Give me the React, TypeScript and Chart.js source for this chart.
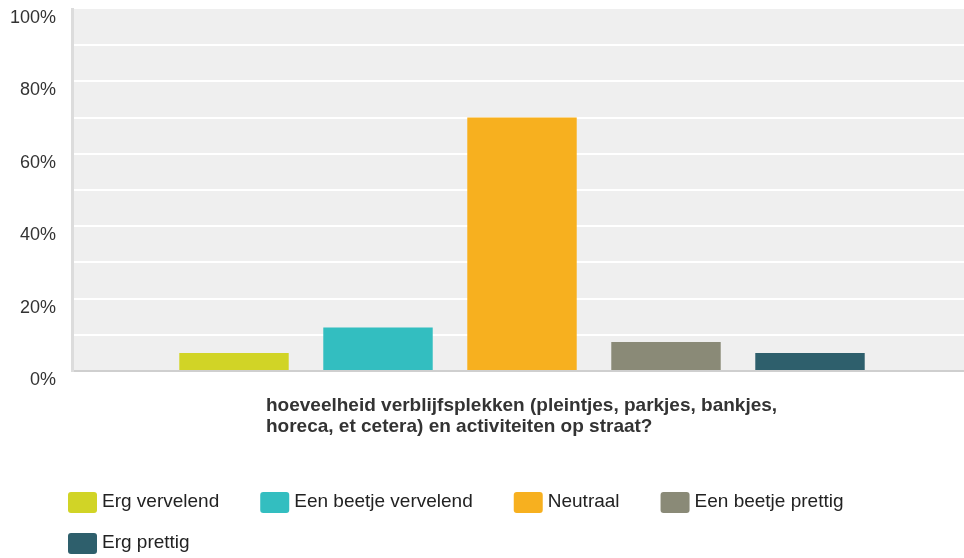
import React, { useEffect, useRef } from "react";
import { Chart, registerables } from "chart.js";

Chart.register(...registerables);

const categories = [
  [
    "hoeveelheid verblijfsplekken (pleintjes, parkjes, bankjes,",
    "horeca, et cetera) en activiteiten op straat?",
  ],
];
const seriesNames = [
  "Erg vervelend",
  "Een beetje vervelend",
  "Neutraal",
  "Een beetje prettig",
  "Erg prettig",
];
const seriesValues = [5, 12, 70, 8, 5];
const seriesColors = ["#D1D426", "#33BEC0", "#F7B01F", "#8A8A77", "#2E5F6C"];
const yTickStep = 10;
const yLabelStep = 20;

const FONT = '"Liberation Sans", Arial, Helvetica, sans-serif';

const bgPlugin = {
  id: "plotBg",
  beforeDraw(chart: any) {
    const { ctx, chartArea: a } = chart;
    ctx.save();
    ctx.fillStyle = "#efefef";
    ctx.fillRect(a.left, a.top, a.right - a.left, a.bottom - a.top);
    ctx.restore();
  },
};

const legendPlugin = {
  id: "customLegend",
  afterDraw(chart: any) {
    const ctx = chart.ctx;
    ctx.save();
    ctx.font = `19px ${FONT}`;
    ctx.textBaseline = "middle";
    ctx.textAlign = "left";
    const startX = 68;
    let x = startX;
    let y = 492;
    const boxW = 29,
      boxH = 21,
      gap = 5,
      itemGap = 41,
      rowH = 41,
      maxX = 964;
    chart.data.datasets.forEach((ds: any) => {
      const tw = ctx.measureText(ds.label).width;
      const w = boxW + gap + tw;
      if (x > startX && x + w > maxX) {
        x = startX;
        y += rowH;
      }
      ctx.fillStyle = ds.backgroundColor;
      ctx.beginPath();
      ctx.roundRect(x, y, boxW, boxH, 3);
      ctx.fill();
      ctx.fillStyle = "#222";
      ctx.fillText(ds.label, x + boxW + gap, y + boxH / 2 - 1);
      x += w + itemGap;
    });
    ctx.restore();
  },
};

export default function App() {
  const ref = useRef<HTMLCanvasElement | null>(null);

  useEffect(() => {
    if (!ref.current) return;
    const chart = new Chart(ref.current, {
      type: "bar",
      data: {
        labels: categories as any,
        datasets: seriesNames.map((name, i) => ({
          label: name,
          data: [seriesValues[i]],
          backgroundColor: seriesColors[i],
          categoryPercentage: 0.8,
          barPercentage: 0.76,
        })),
      },
      options: {
        animation: false,
        responsive: false,
        maintainAspectRatio: false,
        devicePixelRatio: 1,
        layout: { padding: { left: 0, right: 0, top: 0, bottom: 97 } },
        plugins: {
          legend: { display: false },
          tooltip: { enabled: false },
        },
        scales: {
          x: {
            grid: { display: false },
            border: { color: "#cfcfcf", width: 2 },
            ticks: {
              align: "start",
              labelOffset: -256,
              padding: 17,
              color: "#333",
              maxRotation: 0,
              autoSkip: false,
              font: { family: FONT, size: 19, weight: "bold", lineHeight: 1.08 },
            },
            afterFit: (s: any) => {
              s.height = 90;
              s.paddingLeft = 0;
              s.paddingRight = 0;
            },
          },
          y: {
            min: 0,
            max: 100,
            ticks: {
              stepSize: yTickStep,
              callback: (v: any) => (Number(v) % yLabelStep === 0 ? v + "%" : ""),
              color: "#333",
              padding: 16,
              labelOffset: 9,
              font: { family: FONT, size: 18 },
            },
            grid: {
              color: (c: any) => (c.tick && c.tick.value === 100 ? "rgba(0,0,0,0)" : "#ffffff"),
              lineWidth: 2,
              drawTicks: false,
            },
            border: { color: "#dcdcdc", width: 3 },
            afterFit: (s: any) => {
              s.width = 72;
              s.paddingTop = 9;
              s.paddingBottom = 0;
            },
          },
        },
      } as any,
      plugins: [bgPlugin, legendPlugin],
    });
    return () => chart.destroy();
  }, []);

  return (
    <div
      style={{
        position: "absolute",
        left: 0,
        top: 0,
        width: 964,
        height: 558,
        overflow: "hidden",
        background: "#fff",
      }}
    >
      <canvas ref={ref} width={972} height={558} style={{ display: "block", width: 972, height: 558 }} />
    </div>
  );
}
